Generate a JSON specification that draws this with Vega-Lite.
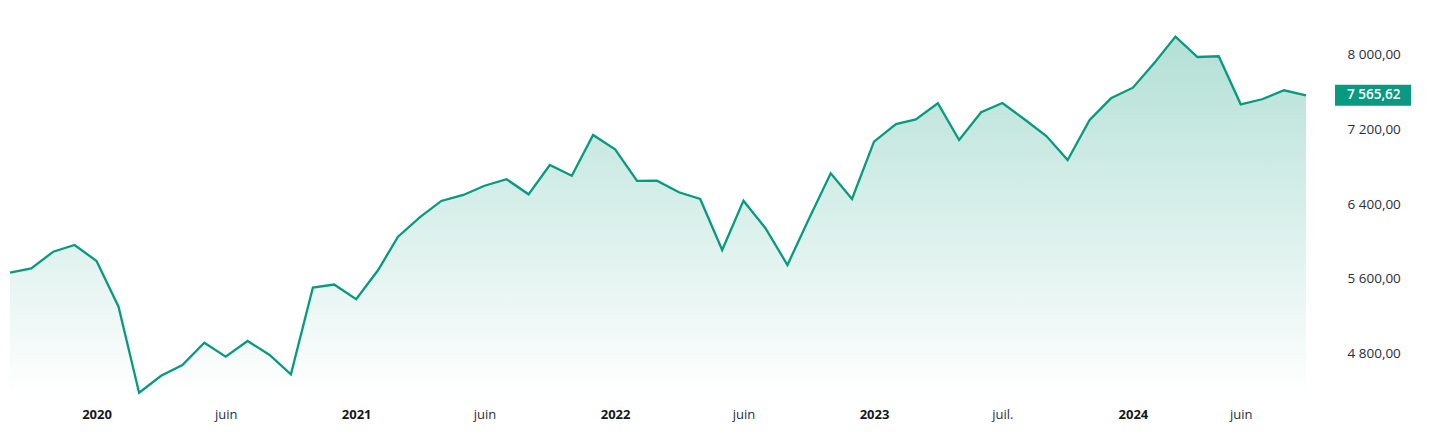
{
  "$schema": "https://vega.github.io/schema/vega-lite/v6.json",
  "width": 1296,
  "height": 396,
  "autosize": {"type": "none"},
  "padding": {"left": 10, "top": 0, "right": 126, "bottom": 46},
  "background": "#ffffff",
  "config": {
    "view": {"stroke": null},
    "font": "Open Sans",
    "locale": {
      "number": {"decimal": ",", "thousands": "\u00a0", "grouping": [3], "currency": ["", " €"]}
    }
  },
  "data": {
    "values": [
      {"date": "2019-09-01T00:00:00", "value": 5667},
      {"date": "2019-10-01T00:00:00", "value": 5714},
      {"date": "2019-11-01T00:00:00", "value": 5892},
      {"date": "2019-12-01T00:00:00", "value": 5964},
      {"date": "2020-01-01T00:00:00", "value": 5793},
      {"date": "2020-02-01T00:00:00", "value": 5304},
      {"date": "2020-03-01T00:00:00", "value": 4383},
      {"date": "2020-04-01T00:00:00", "value": 4565},
      {"date": "2020-05-01T00:00:00", "value": 4680},
      {"date": "2020-06-01T00:00:00", "value": 4918},
      {"date": "2020-07-01T00:00:00", "value": 4769},
      {"date": "2020-08-01T00:00:00", "value": 4937},
      {"date": "2020-09-01T00:00:00", "value": 4787},
      {"date": "2020-10-01T00:00:00", "value": 4580},
      {"date": "2020-11-01T00:00:00", "value": 5509},
      {"date": "2020-12-01T00:00:00", "value": 5541},
      {"date": "2021-01-01T00:00:00", "value": 5383},
      {"date": "2021-02-01T00:00:00", "value": 5696},
      {"date": "2021-03-01T00:00:00", "value": 6053},
      {"date": "2021-04-01T00:00:00", "value": 6263},
      {"date": "2021-05-01T00:00:00", "value": 6435},
      {"date": "2021-06-01T00:00:00", "value": 6499},
      {"date": "2021-07-01T00:00:00", "value": 6598},
      {"date": "2021-08-01T00:00:00", "value": 6667},
      {"date": "2021-09-01T00:00:00", "value": 6506},
      {"date": "2021-10-01T00:00:00", "value": 6820},
      {"date": "2021-11-01T00:00:00", "value": 6705},
      {"date": "2021-12-01T00:00:00", "value": 7141},
      {"date": "2022-01-01T00:00:00", "value": 6988},
      {"date": "2022-02-01T00:00:00", "value": 6649},
      {"date": "2022-03-01T00:00:00", "value": 6652},
      {"date": "2022-04-01T00:00:00", "value": 6528},
      {"date": "2022-05-01T00:00:00", "value": 6456},
      {"date": "2022-06-01T00:00:00", "value": 5910},
      {"date": "2022-07-01T00:00:00", "value": 6438},
      {"date": "2022-08-01T00:00:00", "value": 6143},
      {"date": "2022-09-01T00:00:00", "value": 5750},
      {"date": "2022-10-01T00:00:00", "value": 6239},
      {"date": "2022-11-01T00:00:00", "value": 6731},
      {"date": "2022-12-01T00:00:00", "value": 6456},
      {"date": "2023-01-01T00:00:00", "value": 7069},
      {"date": "2023-02-01T00:00:00", "value": 7258},
      {"date": "2023-03-01T00:00:00", "value": 7307},
      {"date": "2023-04-01T00:00:00", "value": 7480},
      {"date": "2023-05-01T00:00:00", "value": 7087},
      {"date": "2023-06-01T00:00:00", "value": 7384},
      {"date": "2023-07-01T00:00:00", "value": 7483},
      {"date": "2023-08-01T00:00:00", "value": 7309},
      {"date": "2023-09-01T00:00:00", "value": 7130},
      {"date": "2023-10-01T00:00:00", "value": 6873},
      {"date": "2023-11-01T00:00:00", "value": 7301},
      {"date": "2023-12-01T00:00:00", "value": 7533},
      {"date": "2024-01-01T00:00:00", "value": 7647},
      {"date": "2024-02-01T00:00:00", "value": 7919},
      {"date": "2024-03-01T00:00:00", "value": 8193},
      {"date": "2024-04-01T00:00:00", "value": 7975},
      {"date": "2024-05-01T00:00:00", "value": 7983},
      {"date": "2024-06-01T00:00:00", "value": 7469},
      {"date": "2024-07-01T00:00:00", "value": 7523},
      {"date": "2024-08-01T00:00:00", "value": 7619},
      {"date": "2024-09-01T00:00:00", "value": 7565.62}
    ]
  },
  "encoding": {
    "x": {
      "field": "date",
      "type": "temporal",
      "title": null,
      "scale": {
        "domain": [
          {"year": 2019, "month": 9, "date": 1},
          {"year": 2024, "month": 9, "date": 1}
        ]
      },
      "axis": {
        "values": [
          {"year": 2020, "month": 1, "date": 1},
          {"year": 2020, "month": 7, "date": 1},
          {"year": 2021, "month": 1, "date": 1},
          {"year": 2021, "month": 7, "date": 1},
          {"year": 2022, "month": 1, "date": 1},
          {"year": 2022, "month": 7, "date": 1},
          {"year": 2023, "month": 1, "date": 1},
          {"year": 2023, "month": 7, "date": 1},
          {"year": 2024, "month": 1, "date": 1},
          {"year": 2024, "month": 6, "date": 1}
        ],
        "labelExpr": "month(datum.value) == 0 ? timeFormat(datum.value, '%Y') : ((year(datum.value) == 2023) ? 'juil.' : 'juin')",
        "labelFontWeight": {"condition": {"test": "month(datum.value) == 0", "value": "bold"}, "value": "normal"},
        "labelColor": {"condition": {"test": "month(datum.value) == 0", "value": "#131722"}, "value": "#2a2e39"},
        "labelFontSize": 13,
        "labelPadding": 12,
        "labelFlush": false,
        "labelOverlap": false,
        "ticks": false,
        "domain": false,
        "grid": false
      }
    },
    "y": {
      "field": "value",
      "type": "quantitative",
      "title": null,
      "scale": {"domain": [4348, 8585], "nice": false, "zero": false},
      "axis": {
        "orient": "right",
        "values": [4800, 5600, 6400, 7200, 8000],
        "format": ",.2f",
        "labelAlign": "left",
        "labelPadding": 41,
        "labelFontSize": 13.5,
        "labelColor": "#2a2e39",
        "labelOverlap": false,
        "ticks": false,
        "domain": false,
        "grid": false
      }
    }
  },
  "layer": [
    {
      "mark": {
        "type": "area",
        "color": {
          "gradient": "linear",
          "x1": 0, "y1": 0, "x2": 0, "y2": 1,
          "stops": [
            {"offset": 0, "color": "#b3e0d6"},
            {"offset": 1, "color": "#ffffff"}
          ]
        },
        "opacity": 1
      },
      "encoding": {
        "y2": {"datum": 4348}
      }
    },
    {
      "mark": {"type": "line", "color": "#089981", "strokeWidth": 2.3, "strokeJoin": "miter"},
      "encoding": {}
    },
    {
      "transform": [
        {"window": [{"op": "row_number", "as": "rn"}], "sort": [{"field": "date", "order": "descending"}]},
        {"filter": "datum.rn == 1"}
      ],
      "layer": [
        {
          "mark": {
            "type": "point",
            "shape": "M-1.9,-0.52H1.9V0.52H-1.9Z",
            "size": 1600,
            "filled": true,
            "opacity": 1,
            "color": "#089981",
            "strokeWidth": 0,
            "xOffset": 67,
            "clip": false
          }
        },
        {
          "mark": {
            "type": "text",
            "align": "left",
            "baseline": "middle",
            "xOffset": 41,
            "fontSize": 13.5,
            "fontWeight": 600,
            "color": "#ffffff",
            "clip": false
          },
          "encoding": {
            "text": {"field": "value", "type": "quantitative", "format": ",.2f"}
          }
        }
      ]
    }
  ]
}
